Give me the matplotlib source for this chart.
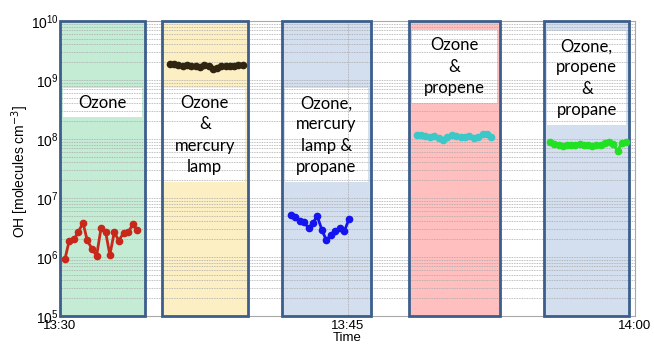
import math
import matplotlib
matplotlib.use("Agg")
import matplotlib.pyplot as plt
from matplotlib.patches import Rectangle
from matplotlib.ticker import LogLocator, FixedLocator

# ---- data (time in minutes after 13:30) ----
t_ozone = [0.26, 0.48, 0.74, 0.95, 1.20, 1.42, 1.67, 1.91, 2.14, 2.38, 2.60, 2.83, 3.07, 3.32, 3.56, 3.80, 4.03]
oh_ozone = [9.25e5, 1.89e6, 2.02e6, 2.62e6, 3.81e6, 1.92e6, 1.37e6, 1.05e6, 3.06e6, 2.69e6,
            1.08e6, 2.62e6, 1.89e6, 2.58e6, 2.62e6, 3.58e6, 2.87e6]

t_lamp = [5.73, 5.95, 6.18, 6.40, 6.62, 6.85, 7.07, 7.30, 7.52, 7.75, 7.97, 8.19, 8.42, 8.64, 8.87, 9.09, 9.31, 9.53]
oh_lamp = [1.85e9, 1.9e9, 1.8e9, 1.75e9, 1.8e9, 1.7e9, 1.75e9, 1.65e9, 1.8e9, 1.7e9,
           1.55e9, 1.6e9, 1.75e9, 1.7e9, 1.75e9, 1.75e9, 1.8e9, 1.8e9]

t_lamp_propane = [12.03, 12.24, 12.50, 12.72, 12.97, 13.20, 13.42, 13.66, 13.89, 14.15, 14.36, 14.62, 14.84, 15.07]
oh_lamp_propane = [5.2e6, 4.8e6, 4.0e6, 3.9e6, 3.1e6, 3.8e6, 4.95e6, 2.9e6, 1.94e6, 2.39e6,
                   2.76e6, 3.1e6, 2.76e6, 4.35e6]

t_propene = [18.60, 18.83, 19.06, 19.29, 19.52, 19.75, 19.98, 20.21, 20.44, 20.67, 20.90, 21.13,
             21.36, 21.59, 21.82, 22.05, 22.28, 22.50]
oh_propene = [1.15e8, 1.15e8, 1.12e8, 1.1e8, 1.12e8, 1.05e8, 0.98e8, 1.1e8, 1.18e8, 1.12e8,
              1.08e8, 1.1e8, 1.12e8, 1.05e8, 1.1e8, 1.22e8, 1.2e8, 1.1e8]

t_propene_propane = [25.57, 25.79, 26.01, 26.23, 26.45, 26.67, 26.89, 27.11, 27.33, 27.55,
                     27.77, 27.99, 28.21, 28.43, 28.65, 28.87, 29.09, 29.31, 29.53]
oh_propene_propane = [8.8e7, 8.3e7, 7.8e7, 7.6e7, 7.8e7, 8.0e7, 7.8e7, 8.2e7, 8.0e7, 8.0e7,
                      7.5e7, 7.8e7, 8.0e7, 8.5e7, 8.8e7, 8.2e7, 6.3e7, 8.5e7, 8.8e7]

# experiment periods (minutes) and label boxes
periods = [(0.0, 4.43), (5.3, 9.8), (11.6, 16.2), (18.2, 22.97), (25.26, 29.7)]
period_colors = ["#c4ebd4", "#fdefc4", "#d3dfee", "#ffbfbf", "#d3dfee"]
labels = ["Ozone", "Ozone\n&\nmercury\nlamp", "Ozone,\nmercury\nlamp &\npropane",
          "Ozone\n&\npropene", "Ozone,\npropene\n&\npropane"]
label_ylims = [(2.36e8, 7.31e8), (1.87e7, 7.31e8), (1.87e7, 7.31e8), (4.07e8, 7.03e9), (1.73e8, 6.77e9)]

xtick_pos = [0, 15, 30]
xtick_labels = ["13:30", "13:45", "14:00"]

# ---- figure ----
fig = plt.figure(figsize=(6.54, 3.44), dpi=100)
W, H = 654, 344
ax = fig.add_axes([60 / W, (H - 316) / H, (635 - 60) / W, (316 - 21) / H])
ax.set_yscale("log")
ax.set_xlim(0, 30)
ax.set_ylim(1e5, 1e10)

for (x0, x1), c, lab, (yl0, yl1) in zip(periods, period_colors, labels, label_ylims):
    ax.axvspan(x0, x1, facecolor=c, edgecolor="none", zorder=0)
    ax.axvspan(x0, x1, facecolor="none", edgecolor="#3b5e8c", linewidth=2, zorder=3, clip_on=False)
    inset = 0.15
    ax.add_patch(Rectangle((x0 + inset, yl0), x1 - x0 - 2 * inset, yl1 - yl0, facecolor="white",
                           edgecolor="none", zorder=2))
    yc = 10 ** ((math.log10(yl0) + math.log10(yl1)) / 2)
    ax.text((x0 + x1) / 2, yc, lab, ha="center", va="center", fontsize=12, family="Lato",
            linespacing=1.4, zorder=4)

ms = 4.5
ax.plot(t_ozone, oh_ozone, "-o", color="#c8281a", lw=2, ms=ms, zorder=5)
ax.plot(t_lamp, oh_lamp, "-o", color="#2f2510", lw=2, ms=ms, zorder=5)
ax.plot(t_lamp_propane, oh_lamp_propane, "-o", color="#1414ee", lw=2, ms=ms, zorder=5)
ax.plot(t_propene, oh_propene, "-o", color="#3cc8c8", lw=2, ms=ms, zorder=5)
ax.plot(t_propene_propane, oh_propene_propane, "-o", color="#22e022", lw=2, ms=ms, zorder=5)

ax.xaxis.set_major_locator(FixedLocator(xtick_pos))
ax.set_xticklabels(xtick_labels, family="Liberation Sans", fontsize=9.5)
ax.yaxis.set_major_locator(LogLocator(base=10, numticks=10))
ax.yaxis.set_minor_locator(LogLocator(base=10, subs=range(2, 10), numticks=50))
for lbl in ax.get_yticklabels():
    lbl.set_family("Liberation Sans")
    lbl.set_fontsize(10)
ax.tick_params(axis="both", which="both", length=0)
ax.tick_params(axis="x", pad=3)
ax.tick_params(axis="y", pad=1)

gridkw = dict(color="#a8a8a8", linestyle=(0, (1, 1)), linewidth=0.6)
ax.grid(True, which="major", axis="y", **gridkw)
ax.grid(True, which="minor", axis="y", **gridkw)
ax.grid(True, which="major", axis="x", **gridkw)
ax.set_axisbelow(False)
for tk in ax.yaxis.get_minor_ticks() + ax.yaxis.get_major_ticks() + ax.xaxis.get_major_ticks():
    tk.gridline.set_zorder(1)

for s in ax.spines.values():
    s.set_color("#a8a8a8")
    s.set_linewidth(0.8)

ax.set_ylabel("OH [molecules cm$^{-3}$]", family="Liberation Sans", fontsize=10)
ax.yaxis.set_label_coords(-0.05, 0.49)
ax.set_xlabel("Time", family="Liberation Sans", fontsize=9.5, labelpad=0)

fig.savefig("out.png", dpi=100)
